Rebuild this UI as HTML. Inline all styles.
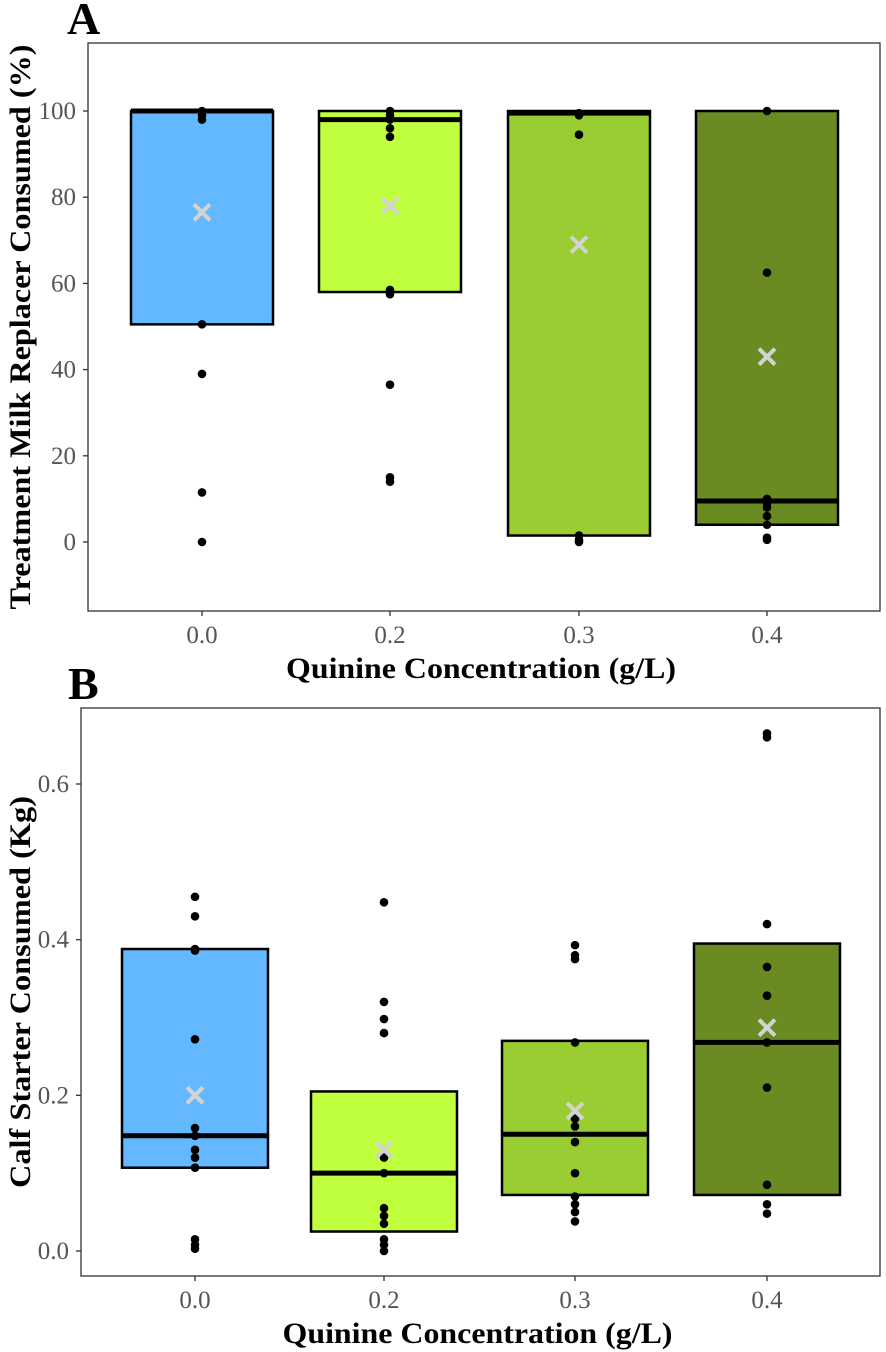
<!DOCTYPE html>
<html><head><meta charset="utf-8"><style>
body{margin:0;background:#fff}
svg{display:block;font-family:"Liberation Serif",serif}
</style></head><body>
<svg id="chart" width="886" height="1352"></svg>
<script>
const cats=["0.0","0.2","0.3","0.4"];
const colors=["#63b8ff","#c0ff3e","#9acd32","#698b22"];
const aQ1=[50.5,58,1.5,4];
const aQ3=[100,100,100,100];
const aMed=[100,98,99.5,9.5];
const aMean=[76.5,78,69,43];
const aPts=[[100,99,98,50.5,39,11.5,0],[100,99,98,96,94,58.5,57.5,36.5,15,14],[99.5,99,94.5,1.5,0.5,0],[100,62.5,10,9,8,6,4,1,0.5]];
const aTicks=[0,20,40,60,80,100];
const bQ1=[0.107,0.025,0.072,0.072];
const bQ3=[0.388,0.205,0.27,0.395];
const bMed=[0.148,0.1,0.15,0.268];
const bMean=[0.2,0.13,0.18,0.287];
const bPts=[[0.455,0.43,0.388,0.386,0.272,0.158,0.148,0.13,0.12,0.107,0.015,0.008,0.003],[0.448,0.32,0.298,0.28,0.12,0.1,0.055,0.045,0.035,0.015,0.008,0],[0.393,0.38,0.375,0.268,0.17,0.16,0.14,0.1,0.07,0.06,0.05,0.038],[0.665,0.66,0.42,0.365,0.328,0.268,0.21,0.085,0.06,0.048]];
const bTicks=[0,0.2,0.4,0.6];
const bTickLabels=["0.0","0.2","0.4","0.6"];

const svg=document.getElementById('chart');
const NS="http://www.w3.org/2000/svg";
function el(t,a,p){const e=document.createElementNS(NS,t);for(const k in a)e.setAttribute(k,a[k]);(p||svg).appendChild(e);return e;}

function panel(o){
  const g=el('g',{});
  
  
  const y=v=>o.y0+(v-o.v0)*(o.y1-o.y0)/(o.v1-o.v0);
  const x=i=>o.xs[i];
  const fr=el('rect',{x:o.L,y:o.T,width:o.R-o.L,height:o.B-o.T,fill:'none',stroke:'#333','stroke-width':1.3},g);
  
  
  o.ticks.forEach((t,i)=>{
    el('line',{x1:o.L-5,x2:o.L,y1:y(t),y2:y(t),stroke:'#333','stroke-width':1.3},g);
    const tx=el('text',{x:o.L-12,y:y(t)+8,'text-anchor':'end','font-size':25,fill:'#555'},g);
    tx.textContent=o.tickLabels[i];
    
    
  });
  cats.forEach((c,i)=>{
    const cx=x(i);
    el('line',{x1:cx,x2:cx,y1:o.B,y2:o.B+5,stroke:'#333','stroke-width':1.3},g);
    const tx=el('text',{x:cx,y:o.B+32,'text-anchor':'middle','font-size':25,fill:'#555'},g);
    tx.textContent=c;
    
    
    const b=el('rect',{x:cx-o.hw,y:y(o.q3[i]),width:2*o.hw,height:y(o.q1[i])-y(o.q3[i]),fill:colors[i],stroke:'#000','stroke-width':2.5},g);
    
    
    const m=el('line',{x1:cx-o.hw,x2:cx+o.hw,y1:y(o.med[i]),y2:y(o.med[i]),stroke:'#000','stroke-width':5},g);
    
    
    o.pts[i].forEach(v=>{
      const p=el('circle',{cx:cx,cy:y(v),r:4.3,fill:'#000'},g);
      
      
    });
    const my=y(o.mean[i]),s=8;
    const mk=el('path',{d:`M${cx-s} ${my-s}L${cx+s} ${my+s}M${cx-s} ${my+s}L${cx+s} ${my-s}`,stroke:'#d3d3d3','stroke-width':4},g);
    
    
  });
  const xt=el('text',{x:(o.L+o.R)/2-3,y:o.B+67,'text-anchor':'middle','font-size':30,'font-weight':'bold',fill:'#000',textLength:390,lengthAdjust:'spacingAndGlyphs'},g);
  xt.textContent='Quinine Concentration (g/L)';
  
  
  const yt=el('text',{x:0,y:0,'text-anchor':'middle','font-size':30,'font-weight':'bold',fill:'#000',textLength:o.ylen,lengthAdjust:'spacingAndGlyphs',transform:`translate(${o.ytx},${o.ymid}) rotate(-90)`},g);
  yt.textContent=o.ytitle;
  
  
  const lb=el('text',{x:o.lx,y:o.ly,'font-size':46,'font-weight':'bold',fill:'#000'},g);
  lb.textContent=o.label;
  
  
}
panel({name:'panel-a',L:88,R:880,T:43,B:611,v0:0,v1:100,y0:542,y1:111,xs:[202,390,579,767],hw:71,
  q1:aQ1,q3:aQ3,med:aMed,mean:aMean,pts:aPts,ticks:aTicks,tickLabels:aTicks.map(String),
  ytitle:'Treatment Milk Replacer Consumed (%)',ytx:30,ymid:327,ylen:565,label:'A',lx:67,ly:34});
panel({name:'panel-b',L:81,R:880,T:708,B:1276,v0:0,v1:0.6,y0:1251,y1:784,xs:[195,384,575,767],hw:73,
  q1:bQ1,q3:bQ3,med:bMed,mean:bMean,pts:bPts,ticks:bTicks,tickLabels:bTickLabels,
  ytitle:'Calf Starter Consumed (Kg)',ytx:30,ymid:992,ylen:392,label:'B',lx:68,ly:699});
</script>
</body></html>
